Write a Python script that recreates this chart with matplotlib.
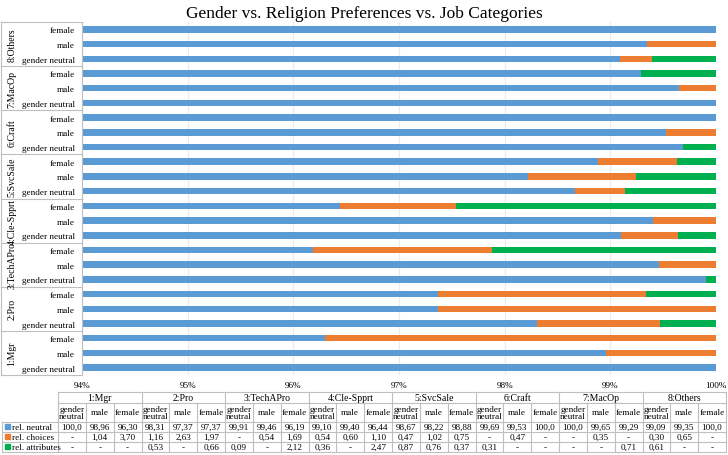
import matplotlib
matplotlib.use('Agg')
import matplotlib.pyplot as plt
import numpy as np

plt.rcParams['font.family'] = ['Liberation Serif', 'DejaVu Serif']

cats = ['1:Mgr', '2:Pro', '3:TechAPro', '4:Cle-Spprt', '5:SvcSale', '6:Craft', '7:MacOp', '8:Others']
genders = ['gender neutral', 'male', 'female']
neutral = [100.0, 98.96, 96.30, 98.31, 97.37, 97.37, 99.91, 99.46, 96.19, 99.10, 99.40, 96.44,
           98.67, 98.22, 98.88, 99.69, 99.53, 100.0, 100.0, 99.65, 99.29, 99.09, 99.35, 100.0]
choices = [0, 1.04, 3.70, 1.16, 2.63, 1.97, 0, 0.54, 1.69, 0.54, 0.60, 1.10,
           0.47, 1.02, 0.75, 0, 0.47, 0, 0, 0.35, 0, 0.30, 0.65, 0]
attributes = [0, 0, 0, 0.53, 0, 0.66, 0.09, 0, 2.12, 0.36, 0, 2.47,
              0.87, 0.76, 0.37, 0.31, 0, 0, 0, 0, 0.71, 0.61, 0, 0]
series = ['rel. neutral', 'rel. choices', 'rel. attributes']
colors = ['#5B9BD5', '#ED7D31', '#00B050']
xticks = [94, 95, 96, 97, 98, 99, 100]

W, H = 728, 456
fig = plt.figure(figsize=(W/100, H/100), dpi=100)
fs = 6.6
lc = '#BFBFBF'

# main plot area in pixel coords
x0, x1, ytop, ybot = 82, 716, 23, 376
ax = fig.add_axes([x0/W, 1-ybot/H, (x1-x0)/W, (ybot-ytop)/H])

n = len(neutral)
y = np.arange(n)
neu = np.array(neutral); cho = np.array(choices); att = np.array(attributes)
h = 0.44
ax.barh(y, neu, height=h, color=colors[0], zorder=2)
ax.barh(y, cho, left=neu, height=h, color=colors[1], zorder=2)
ax.barh(y, att, left=neu+cho, height=h, color=colors[2], zorder=2)

ax.set_xlim(94, 100)
ax.set_ylim(-0.5, n-0.5)
ax.set_xticks(xticks)
ax.set_xticklabels([f'{t}%' for t in xticks], fontsize=fs)
ax.set_yticks(y)
ax.set_yticklabels(genders*len(cats), fontsize=fs)
ax.tick_params(axis='both', length=0, pad=5)
ax.tick_params(axis='x', pad=4.5)
ax.grid(axis='x', color='#EBEBEB', lw=0.8, zorder=0)
for s in ['top', 'right', 'bottom']:
    ax.spines[s].set_visible(False)
ax.spines['left'].set_color(lc)
ax.spines['left'].set_linewidth(0.8)

# group separators and labels on the left
tr = ax.get_yaxis_transform()
xl = -(x0-1)/(x1-x0)
for k in range(len(cats)+1):
    yy = k*3-0.5
    ax.plot([xl, 0], [yy, yy], color=lc, lw=0.8, transform=tr, clip_on=False)
ax.plot([xl, xl], [-0.5, n-0.5], color=lc, lw=0.8, transform=tr, clip_on=False)
for k, c in enumerate(cats):
    ax.text(-(x0-12)/(x1-x0), k*3+1, c, rotation=90, ha='center', va='center',
            fontsize=fs+0.4, transform=tr)

fig.suptitle('Gender vs. Religion Preferences vs. Job Categories', fontsize=12.5, y=1-14/H, va='center')

# data table underneath
tb = fig.add_axes([0, 0, 1, 1])
tb.set_xlim(0, W)
tb.set_ylim(H, 0)
tb.axis('off')
tx0, tx1 = 58, 726
cw = (tx1-tx0)/len(cats)
sw = cw/3
r0, r1, r2 = 393, 404, 423
rh = 10
lab0 = 2
rows = [neutral, choices, attributes]

def fmt(v):
    if v == 0:
        return '-'
    s = f'{v:.1f}' if v >= 100 else f'{v:.2f}'
    return s.replace('.', ',')

kw = dict(color=lc, lw=0.8)
tb.plot([tx0, tx1], [r0, r0], **kw)
tb.plot([tx0, tx1], [r1, r1], **kw)
for i in range(4):
    tb.plot([lab0, tx1], [r2+i*rh, r2+i*rh], **kw)
tb.plot([lab0, lab0], [r2, r2+3*rh], **kw)
for k in range(len(cats)+1):
    xx = tx0+k*cw
    tb.plot([xx, xx], [r0, r2+3*rh], **kw)
for k in range(len(cats)):
    for j in (1, 2):
        xx = tx0+k*cw+j*sw
        tb.plot([xx, xx], [r1, r2+3*rh], **kw)
    tb.text(tx0+(k+0.5)*cw, (r0+r1)/2, cats[k], ha='center', va='center', fontsize=fs+0.4)
    for j, g in enumerate(genders):
        gl = 'gender\nneutral' if g == 'gender neutral' else g
        tb.text(tx0+k*cw+(j+0.5)*sw, (r1+r2)/2, gl, ha='center', va='center',
                fontsize=fs, linespacing=0.95)
        for r, vals in enumerate(rows):
            tb.text(tx0+k*cw+(j+0.5)*sw, r2+(r+0.5)*rh, fmt(vals[k*3+j]),
                    ha='center', va='center', fontsize=fs)

for r, s in enumerate(series):
    yc = r2+(r+0.5)*rh
    tb.add_patch(plt.Rectangle((5, yc-2.5), 5, 5, color=colors[r]))
    tb.text(12, yc, s, ha='left', va='center', fontsize=fs)

fig.savefig('out.png', dpi=100)
